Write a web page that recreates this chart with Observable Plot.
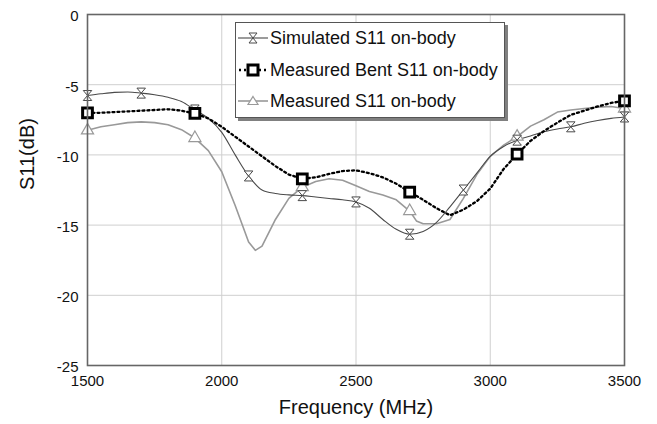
<!DOCTYPE html>
<html><head><meta charset="utf-8">
<script src="https://cdn.jsdelivr.net/npm/d3@7"></script>
<script src="https://cdn.jsdelivr.net/npm/@observablehq/plot@0.6"></script>
<style>
body{margin:0;background:#fff;font-family:"Liberation Sans",Arial,sans-serif;}
#wrap{position:relative;width:657px;height:424px;}
#legend{position:absolute;left:235px;top:22px;width:268px;height:94px;background:#fff;border:1px solid #555;box-shadow:3px 3px 0 #808080;}
.row{position:absolute;left:2px;height:24px;display:flex;align-items:center;font-size:18px;color:#111;white-space:nowrap;}
.row svg{margin-right:2px;}
</style></head><body><div id="wrap"><div id="legend"></div></div>
<script>
// ---- data ----
const xTicks = [1500, 2000, 2500, 3000, 3500];
const yTicks = [0, -5, -10, -15, -20, -25];
const seriesNames = ["Simulated S11 on-body", "Measured Bent S11 on-body", "Measured S11 on-body"];
const xLabel = "Frequency (MHz)";
const yLabel = "S11(dB)";

const freqSim = [1500,1550,1600,1650,1700,1750,1800,1850,1900,1950,2000,2050,2100,2150,2200,2250,2300,2350,2400,2450,2500,2550,2600,2650,2700,2750,2800,2850,2900,2950,3000,3050,3100,3150,3200,3250,3300,3350,3400,3450,3500];
const simulated = [-5.77,-5.65,-5.55,-5.52,-5.6,-5.72,-5.9,-6.2,-6.8,-7.4,-8.4,-10.0,-11.5,-12.5,-12.75,-12.85,-12.9,-13.0,-13.1,-13.2,-13.35,-13.8,-14.6,-15.3,-15.65,-15.45,-14.8,-13.7,-12.5,-11.3,-10.1,-9.4,-8.95,-8.65,-8.35,-8.15,-8.0,-7.75,-7.55,-7.4,-7.3];
const simMarkerFreq = [1500,1700,1900,2100,2300,2500,2700,2900,3100,3300,3500];

const freqBent = [1500,1550,1600,1650,1700,1750,1800,1850,1900,1950,2000,2050,2100,2150,2200,2250,2300,2350,2400,2450,2500,2550,2600,2650,2700,2750,2800,2850,2900,2950,3000,3050,3100,3150,3200,3250,3300,3350,3400,3450,3500];
const bent = [-7.0,-7.0,-6.95,-6.9,-6.85,-6.8,-6.75,-6.85,-7.05,-7.4,-8.0,-8.7,-9.4,-10.1,-10.8,-11.4,-11.7,-11.6,-11.35,-11.15,-11.1,-11.3,-11.6,-12.05,-12.65,-13.2,-13.8,-14.3,-13.9,-13.3,-12.4,-11.0,-9.95,-9.0,-8.3,-7.7,-7.15,-6.85,-6.55,-6.3,-6.15];
const bentMarkerFreq = [1500,1900,2300,2700,3100,3500];

const freqMeas = [1500,1550,1600,1650,1700,1750,1800,1850,1900,1950,2000,2050,2100,2125,2150,2200,2250,2300,2350,2400,2450,2500,2550,2600,2650,2700,2725,2750,2800,2850,2900,2950,3000,3050,3100,3150,3200,3250,3300,3350,3400,3450,3500];
const measured = [-8.25,-8.0,-7.85,-7.7,-7.65,-7.7,-7.85,-8.2,-8.8,-9.7,-11.2,-13.6,-16.2,-16.8,-16.5,-14.6,-13.1,-12.3,-11.9,-11.7,-11.8,-12.2,-12.6,-12.85,-13.2,-14.0,-14.7,-14.9,-14.9,-14.6,-13.1,-11.4,-10.1,-9.3,-8.7,-7.95,-7.5,-6.95,-6.8,-6.7,-6.6,-6.55,-6.7];
const measMarkerFreq = [1500,1900,2300,2700,3100,3500];

// ---- build tables ----
const simData = freqSim.map((f, i) => ({f, v: simulated[i]}));
const bentData = freqBent.map((f, i) => ({f, v: bent[i]}));
const measData = freqMeas.map((f, i) => ({f, v: measured[i]}));
const simMarks = simData.filter(d => simMarkerFreq.includes(d.f));
const bentMarks = bentData.filter(d => bentMarkerFreq.includes(d.f));
const measMarks = measData.filter(d => measMarkerFreq.includes(d.f));

const hourglass = {
  draw(context, size) {
    const s = Math.sqrt(size / Math.PI);
    const w = 0.85 * s, h = 1.0 * s;
    context.moveTo(-w, -h);
    context.lineTo(w, -h);
    context.lineTo(-w, h);
    context.lineTo(w, h);
    context.closePath();
  }
};

const simColor = "#4a4a4a", measColor = "#999999", bentColor = "#000000";
const font = "'Liberation Sans', Arial, sans-serif";

const chart = Plot.plot({
  width: 657, height: 424,
  marginLeft: 87, marginRight: 33, marginTop: 14, marginBottom: 59,
  style: {fontFamily: font, fontSize: "15px", color: "#111", background: "white", overflow: "visible"},
  x: {domain: [1500, 3500]},
  y: {domain: [-25, 0]},
  marks: [
    Plot.gridX(xTicks, {stroke: "#cfcfcf", strokeOpacity: 1, strokeWidth: 1}),
    Plot.gridY(yTicks, {stroke: "#cfcfcf", strokeOpacity: 1, strokeWidth: 1}),
    Plot.axisX(xTicks, {tickSize: 0, tickPadding: 10, tickFormat: d => String(d), label: null, fontSize: 15}),
    Plot.axisY(yTicks, {tickSize: 0, tickPadding: 9, tickFormat: d => String(d), label: null, fontSize: 15, dy: 2}),
    Plot.lineY(measData, {x: "f", y: "v", stroke: measColor, strokeWidth: 1.6}),
    Plot.lineY(simData, {x: "f", y: "v", stroke: simColor, strokeWidth: 1.1, curve: "monotone-x"}),
    Plot.lineY(bentData, {x: "f", y: "v", stroke: bentColor, strokeWidth: 2.3, strokeDasharray: "2,3"}),
    Plot.dot(measMarks, {x: "f", y: "v", symbol: "triangle", r: 4.5, stroke: measColor, fill: "white", strokeWidth: 1.2}),
    Plot.dot(simMarks, {x: "f", y: "v", symbol: hourglass, r: 5, stroke: simColor, fill: "white", strokeWidth: 1}),
    Plot.dot(bentMarks, {x: "f", y: "v", symbol: "square", r: 5.5, stroke: bentColor, fill: "white", strokeWidth: 3}),
    Plot.frame({stroke: "#666", strokeWidth: 1.6}),
    Plot.text([xLabel], {text: d => d, frameAnchor: "bottom", dy: 48, fontSize: 20, fill: "#111"}),
    Plot.text([yLabel], {text: d => d, frameAnchor: "left", dx: -60, rotate: -90, fontSize: 20, fill: "#111"})
  ]
});
document.getElementById("wrap").prepend(chart);

// ---- legend ----
const legend = document.getElementById("legend");
const swatches = [
  `<svg width="30" height="20"><line x1="0" y1="10" x2="30" y2="10" stroke="${simColor}" stroke-width="1.1"/><path d="M11,5H19L11,15H19Z" fill="white" stroke="${simColor}" stroke-width="1"/></svg>`,
  `<svg width="30" height="20"><line x1="1" y1="10" x2="29" y2="10" stroke="#000" stroke-width="2.3" stroke-dasharray="2,3"/><rect x="10" y="5" width="10" height="10" fill="white" stroke="#000" stroke-width="3"/></svg>`,
  `<svg width="30" height="20"><line x1="0" y1="10" x2="30" y2="10" stroke="${measColor}" stroke-width="1.6"/><path d="M15,5.5L20,13.5H10Z" fill="white" stroke="${measColor}" stroke-width="1.2"/></svg>`
];
const rowTops = [3, 35, 66];
seriesNames.forEach((name, i) => {
  const row = document.createElement("div");
  row.className = "row";
  row.style.top = rowTops[i] + "px";
  row.innerHTML = swatches[i] + `<span>${name}</span>`;
  legend.appendChild(row);
});
</script>
</body></html>
